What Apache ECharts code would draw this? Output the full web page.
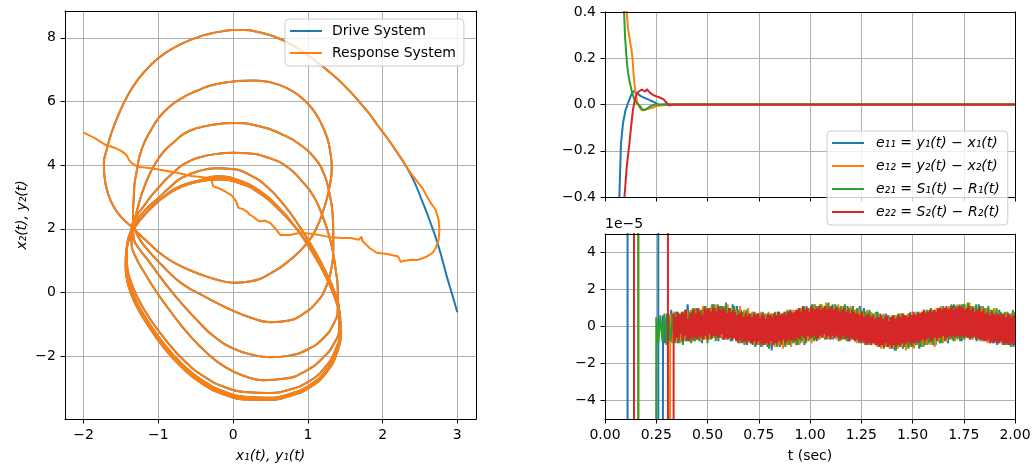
<!DOCTYPE html>
<html><head><meta charset="utf-8">
<script src="https://cdn.jsdelivr.net/npm/echarts@6/dist/echarts.min.js"></script>
<style>html,body{margin:0;padding:0;background:#fff}#c{width:1036px;height:468px}</style>
</head><body><div id="c"></div>
<script>
// ---------- phase portrait (x1,x2) / (y1,y2) ----------
const driveStart = [[3.0,-0.62],[2.93,-0.05],[2.86,0.5],[2.75,1.44],[2.64,2.2],[2.53,2.87],[2.42,3.5],[2.3,4.02]];
const responseStart = [[-2.0,5.02],[-1.85,4.85],[-1.72,4.65],[-1.58,4.54],[-1.5,4.45],[-1.43,4.33],[-1.39,4.15],[-1.36,4.07],[-1.3,3.98],[-1.25,3.94],[-1.1,3.9],[-0.92,3.83],[-0.75,3.76],[-0.56,3.66],[-0.4,3.62],[-0.29,3.6],[-0.28,3.45],[-0.27,3.34],[-0.18,3.26],[-0.11,3.18],[-0.02,3.05],[0.04,2.87],[0.07,2.66],[0.13,2.62],[0.18,2.55],[0.22,2.45],[0.27,2.38],[0.31,2.3],[0.36,2.23],[0.42,2.26],[0.45,2.23],[0.5,2.18],[0.56,2.02],[0.63,1.81],[0.76,1.81],[0.9,1.88],[1.08,1.84],[1.3,1.74],[1.46,1.71],[1.57,1.71],[1.68,1.66],[1.72,1.75],[1.73,1.62],[1.83,1.39],[1.92,1.25],[2.06,1.21],[2.21,1.13],[2.24,0.97],[2.3,1.0],[2.38,1.03],[2.46,1.02],[2.52,1.06],[2.59,1.13],[2.67,1.25],[2.71,1.39],[2.75,1.65],[2.76,1.97],[2.75,2.28],[2.71,2.6],[2.66,2.76],[2.59,3.03],[2.53,3.29],[2.46,3.5],[2.39,3.71],[2.3,4.02]];
// common trajectory after synchronisation
const attractor = [
 [2.3,4.02],[2.18,4.45],[2.06,4.86],[1.94,5.23],[1.83,5.59],[1.72,5.9],[1.61,6.2],[1.5,6.47],[1.39,6.72],[1.25,7.0],[1.1,7.28],[0.94,7.55],[0.8,7.75],[0.67,7.92],[0.5,8.08],[0.33,8.18],[0.16,8.24],[0.0,8.24],[-0.15,8.2],[-0.32,8.12],[-0.47,8.02],[-0.7,7.8],[-0.92,7.5],[-1.1,7.15],[-1.27,6.7],[-1.42,6.15],[-1.54,5.55],[-1.63,5.0],[-1.69,4.5],[-1.73,4.05],[-1.72,3.6],[-1.68,3.15],[-1.6,2.7],[-1.49,2.35],[-1.36,2.07],[-1.15,1.6],[-0.92,1.13],[-0.7,0.83],[-0.47,0.6],[-0.24,0.42],[0.0,0.31],[0.22,0.35],[0.5,0.6],[0.76,1.02],[0.99,1.55],[1.12,2.05],[1.21,2.6],[1.28,3.2],[1.32,3.92],
 [1.3,4.4],[1.26,4.85],[1.17,5.35],[1.05,5.8],[0.9,6.15],[0.72,6.42],[0.5,6.6],[0.28,6.66],[0.05,6.64],[-0.25,6.53],[-0.5,6.32],[-0.69,6.1],[-0.86,5.82],[-1.0,5.47],[-1.1,5.1],[-1.18,4.75],[-1.25,4.3],[-1.29,3.81],[-1.32,3.4],[-1.33,2.97],[-1.34,2.5],[-1.33,2.15],[-1.28,1.8],[-1.18,1.44],[-0.95,0.85],[-0.69,0.29],[-0.36,-0.15],[-0.02,-0.55],[0.25,-0.8],[0.5,-0.93],[0.75,-0.88],[0.95,-0.65],[1.12,-0.3],[1.24,0.15],[1.31,0.7],[1.34,1.3],[1.34,1.9],[1.33,2.5],[1.29,3.1],[1.22,3.7],[1.1,4.2],[0.92,4.6],[0.67,4.95],[0.35,5.22],[0.02,5.32],
 [-0.25,5.28],[-0.47,5.17],[-0.65,5.0],[-0.78,4.75],[-0.93,4.42],[-1.05,4.02],[-1.14,3.6],[-1.21,3.18],[-1.26,2.8],[-1.3,2.45],[-1.34,2.1],[-1.33,1.7],[-1.25,1.35],[-1.14,1.02],[-0.93,0.35],[-0.69,-0.34],[-0.47,-0.9],[-0.25,-1.39],[0.0,-1.75],[0.25,-1.95],[0.5,-2.03],[0.75,-1.98],[1.0,-1.78],[1.2,-1.45],[1.34,-1.0],[1.4,-0.5],[1.4,0.1],[1.37,0.75],[1.33,1.34],[1.27,1.9],[1.18,2.5],[1.07,3.05],[0.92,3.5],[0.72,3.95],[0.45,4.25],[0.2,4.37],[0.0,4.39],
 [-0.2,4.36],[-0.47,4.23],[-0.65,4.05],[-0.78,3.81],[-0.9,3.55],[-1.0,3.29],[-1.1,3.02],[-1.18,2.76],[-1.29,2.4],[-1.36,2.0],[-1.36,1.55],[-1.29,1.05],[-1.18,0.6],[-1.02,0.0],[-0.82,-0.65],[-0.6,-1.3],[-0.35,-1.9],[-0.1,-2.35],[0.15,-2.62],[0.4,-2.75],[0.7,-2.7],[0.98,-2.45],[1.2,-2.05],[1.35,-1.6],[1.42,-1.1],[1.42,-0.6],[1.36,0.0],[1.24,0.65],[1.08,1.35],[0.89,2.07],[0.68,2.75],[0.45,3.33],[0.2,3.72],[-0.02,3.88],[-0.22,3.9],
 [-0.45,3.82],[-0.69,3.6],[-0.85,3.3],[-1.0,2.97],[-1.13,2.7],[-1.23,2.45],[-1.32,2.15],[-1.39,1.8],[-1.42,1.4],[-1.42,0.9],[-1.37,0.35],[-1.27,-0.2],[-1.12,-0.8],[-0.9,-1.5],[-0.65,-2.15],[-0.38,-2.65],[-0.1,-2.98],[0.2,-3.13],[0.45,-3.15],[0.75,-3.05],[1.02,-2.78],[1.23,-2.35],[1.37,-1.8],[1.43,-1.2],[1.42,-0.7],[1.35,-0.1],[1.22,0.6],[1.05,1.3],[0.85,2.0],[0.62,2.65],[0.35,3.2],[0.08,3.52],[-0.2,3.65],
 [-0.45,3.52],[-0.7,3.35],[-0.88,3.1],[-1.03,2.8],[-1.16,2.5],[-1.27,2.2],[-1.36,1.85],[-1.42,1.4],[-1.43,0.9],[-1.39,0.3],[-1.29,-0.3],[-1.14,-0.9],[-0.93,-1.6],[-0.68,-2.25],[-0.4,-2.78],[-0.1,-3.13],[0.2,-3.28],[0.45,-3.3],[0.76,-3.18],[1.04,-2.88],[1.25,-2.42],[1.38,-1.85],[1.43,-1.2],[1.42,-0.7],[1.35,-0.1],[1.22,0.6],[1.05,1.3],[0.85,2.0],[0.62,2.6],[0.35,3.15],[0.08,3.47],[-0.2,3.58],
 [-0.45,3.5],[-0.7,3.32],[-0.89,3.07],[-1.04,2.78],[-1.17,2.48],[-1.28,2.17],[-1.37,1.82],[-1.43,1.35],[-1.44,0.85],[-1.4,0.25],[-1.3,-0.35],[-1.15,-0.95],[-0.94,-1.65],[-0.69,-2.3],[-0.41,-2.83],[-0.11,-3.18],[0.19,-3.33],[0.45,-3.35],[0.77,-3.22],[1.05,-2.92],[1.26,-2.45],[1.39,-1.87],[1.44,-1.22],[1.43,-0.7],[1.36,-0.1],[1.23,0.6],[1.06,1.3],[0.86,1.98],[0.63,2.58],[0.36,3.12],[0.08,3.45],[-0.2,3.56],
 [-0.45,3.49],[-0.7,3.31],[-0.89,3.06],[-1.05,2.77],[-1.18,2.46],[-1.29,2.15],[-1.38,1.8],[-1.43,1.33],[-1.44,0.83],[-1.4,0.22],[-1.3,-0.38],[-1.15,-0.98],[-0.94,-1.68],[-0.69,-2.33],[-0.41,-2.86],[-0.11,-3.2],[0.19,-3.35],[0.45,-3.37],[0.77,-3.24],[1.05,-2.94],[1.26,-2.47],[1.39,-1.88],[1.44,-1.22],[1.43,-0.7],[1.36,-0.1],[1.23,0.6],[1.06,1.3],[0.86,1.97],[0.63,2.57],[0.36,3.11],[0.08,3.44],[-0.22,3.55],
 [-0.45,3.49],[-0.7,3.31],[-0.9,3.05],[-1.05,2.76],[-1.18,2.45],[-1.29,2.14],[-1.38,1.79],[-1.43,1.32],[-1.44,0.82],[-1.4,0.21],[-1.3,-0.39],[-1.15,-0.99],[-0.94,-1.69],[-0.69,-2.34],[-0.41,-2.87],[-0.11,-3.21],[0.19,-3.36],[0.45,-3.37],[0.77,-3.24],[1.05,-2.94],[1.26,-2.47],[1.39,-1.88],[1.44,-1.2]
];

// ---------- synchronisation errors ----------
// transient part: [t, e]
const e11Transient = [[0,-5.0],[0.03,-2.2],[0.055,-0.9],[0.07,-0.4],[0.078,-0.17],[0.088,-0.08],[0.1,-0.025],[0.116,0.015],[0.128,0.042],[0.139,0.058],[0.15,0.052],[0.16,0.047],[0.175,0.036],[0.19,0.03],[0.205,0.024],[0.22,0.018],[0.235,0.012],[0.25,0.005],[0.264,-0.002],[0.272,-0.0012],[0.278,-0.0006]];
const e12Transient = [[0,5.6],[0.04,2.4],[0.08,0.9],[0.1,0.5],[0.106,0.4],[0.112,0.33],[0.119,0.29],[0.125,0.255],[0.13,0.235],[0.135,0.19],[0.139,0.134],[0.146,0.07],[0.152,0.033],[0.158,0.01],[0.168,-0.012],[0.18,-0.025],[0.19,-0.022],[0.2,-0.02],[0.21,-0.019],[0.22,-0.016],[0.23,-0.014],[0.24,-0.011],[0.253,-0.007],[0.27,-0.004],[0.29,-0.002],[0.305,-0.0008]];
const e21Transient = [[0,3.5],[0.05,1.3],[0.08,0.6],[0.093,0.4],[0.098,0.29],[0.106,0.19],[0.112,0.14],[0.119,0.105],[0.131,0.055],[0.14,0.03],[0.147,0.016],[0.155,0.006],[0.17,-0.006],[0.18,-0.02],[0.19,-0.025],[0.2,-0.021],[0.21,-0.014],[0.22,-0.008],[0.23,-0.004],[0.24,-0.0015],[0.247,-0.0004]];
const e22Transient = [[0,-3.5],[0.05,-1.2],[0.085,-0.55],[0.095,-0.4],[0.106,-0.27],[0.119,-0.168],[0.128,-0.09],[0.136,-0.025],[0.147,0.026],[0.155,0.045],[0.163,0.055],[0.172,0.062],[0.18,0.065],[0.188,0.058],[0.196,0.055],[0.204,0.066],[0.212,0.062],[0.22,0.05],[0.228,0.045],[0.237,0.04],[0.248,0.036],[0.26,0.033],[0.272,0.028],[0.286,0.022],[0.296,0.012],[0.302,0.004],[0.312,-0.004],[0.322,-0.002],[0.329,-0.0008]];

// steady-state residual noise (units of 1e-6), sampled every <step> s from <start>
const e11TailStart = 0.283, e11TailStep = 0.01;
const e11Tail = [
 6,-9,7,-8,9,-7,8,-9,7,-8, 8,-8,12,-7,9,-8,10,-7,9,-9, 11,-6,10,-7,12,-6,10,-8,11,-7, 11,-7,10,-8,12,-6,11,-7,9,-8,
 8,-10,7,-9,8,-11,7,-10,6,-9, 7,-11,6,-13,7,-10,8,-11,6,-10, 8,-10,9,-9,7,-10,8,-9,9,-10, 11,-8,10,-7,12,-8,11,-6,10,-7,
 12,-6,11,-7,12,-6,10,-7,11,-6, 11,-8,10,-7,9,-8,11,-7,10,-9, 8,-10,7,-9,8,-11,7,-10,6,-11, 6,-12,5,-13,6,-11,7,-12,5,-11,
 7,-11,6,-10,8,-12,7,-11,8,-10, 9,-9,8,-10,10,-9,9,-8,10,-9, 11,-7,12,-6,11,-8,12,-7,10,-6, 11,-7,10,-8,12,-6,11,-7,10,-8,
 9,-9,8,-10,9,-8,7,-9,8,-10, 7,-11,6,-10,7,-11,6,-12,7,-10];
const e12TailStart = 0.318, e12TailStep = 0.01;
const e12Tail = [
 7,-9,8,-8,6,-9,8,-7,9,-8, 9,-8,10,-7,9,-8,11,-7,10,-7, 11,-6,12,-7,10,-6,11,-7,12,-6, 10,-7,9,-8,11,-8,9,-7,10,-9,
 8,-10,7,-9,8,-11,7,-10,8,-9, 7,-11,6,-10,7,-12,8,-10,7,-11, 9,-9,8,-10,10,-9,9,-8,10,-9, 12,-6,11,-7,12,-6,13,-7,11,-6,
 11,-7,12,-8,11,-6,10,-8,11,-7, 9,-9,10,-8,8,-9,9,-10,8,-9, 7,-11,6,-12,7,-11,5,-12,6,-11, 6,-12,7,-11,6,-13,7,-11,6,-12,
 8,-10,7,-11,9,-10,8,-10,9,-11, 10,-8,11,-9,10,-8,11,-7,10,-8, 12,-6,11,-7,12,-6,13,-7,11,-6, 10,-8,11,-7,10,-9,9,-8,10,-8,
 8,-9,7,-10,8,-10,7,-9,8,-10];
const e21TailStart = 0.25, e21TailStep = 0.01;
const e21Tail = [
 5,-9,6,-8,7,-10,6,-8,7,-9, 8,-9,7,-10,9,-8,8,-9,10,-8, 10,-8,9,-7,11,-9,10,-7,12,-8, 12,-6,11,-7,13,-6,10,-8,11,-7,
 9,-9,8,-10,9,-8,7,-10,8,-9, 7,-11,8,-10,6,-12,7,-10,8,-11, 8,-10,7,-11,9,-10,8,-9,9,-10, 10,-8,11,-9,10,-7,12,-8,11,-7,
 12,-6,11,-7,13,-7,12,-6,11,-8, 11,-7,12,-8,10,-7,11,-8,10,-9, 9,-9,8,-10,9,-9,7,-10,8,-11, 6,-12,7,-11,5,-12,6,-13,7,-11,
 7,-11,6,-12,8,-11,7,-10,8,-11, 8,-10,9,-9,10,-10,9,-8,10,-9, 11,-8,10,-7,12,-8,11,-7,12,-8, 12,-6,13,-7,11,-6,12,-7,11,-8,
 10,-8,11,-9,9,-8,10,-9,8,-10, 8,-10,7,-11,9,-10,7,-11,8,-10];
const e22TailStart = 0.335, e22TailStep = 0.005;
const e22Tail = [
 7,-8,5,-6,8,-7,6,-4,8,-8,7,-5,9,-7,4,-8,7,-6,8,-7,
 9,-6,7,-7,10,-5,8,-6,6,-7,10,-5,9,-7,10,-4,8,-6,10,-5,
 10,-5,8,-6,11,-6,9,-4,10,-7,9,-6,7,-7,10,-6,8,-7,9,-6,
 8,-8,6,-9,7,-7,8,-9,5,-8,7,-9,6,-8,7,-9,5,-9,7,-8,
 6,-10,7,-8,5,-9,7,-10,6,-9,4,-9,7,-10,6,-8,5,-10,7,-9,
 6,-9,8,-8,6,-9,7,-7,8,-9,6,-8,8,-7,9,-8,7,-7,8,-8,
 9,-6,10,-7,8,-5,11,-6,9,-7,10,-5,8,-6,11,-6,10,-5,9,-7,
 10,-6,11,-5,9,-6,10,-4,11,-6,9,-5,10,-7,11,-5,9,-6,10,-5,
 10,-6,8,-7,9,-5,10,-7,8,-6,9,-8,7,-6,9,-7,8,-8,7,-7,
 7,-8,6,-9,8,-8,5,-10,6,-9,7,-9,5,-10,6,-9,4,-10,5,-10,
 5,-11,6,-10,4,-11,5,-9,6,-11,3,-10,5,-11,6,-10,4,-11,5,-10,
 6,-10,5,-9,7,-10,6,-9,5,-8,7,-10,6,-9,8,-9,6,-8,7,-9,
 7,-8,8,-7,9,-8,7,-7,8,-6,9,-8,8,-7,9,-6,8,-7,10,-6,
 10,-6,9,-5,10,-7,11,-6,9,-5,10,-6,11,-5,9,-6,10,-5,11,-6,
 11,-5,10,-6,9,-5,10,-6,11,-7,9,-6,10,-5,8,-7,9,-6,10,-7,
 8,-7,9,-8,7,-8,8,-7,6,-9,8,-8,7,-9,6,-8,7,-9,6,-8,
 7,-9,6,-10,5,-9,7,-10,6,-9,5,-10,6,-9,7,-10,5,-9,6,-10];

// ---------- ticks ----------
const phaseXTicks = [-2,-1,0,1,2,3];
const phaseYTicks = [-2,0,2,4,6,8];
const timeTicks = [0,0.25,0.5,0.75,1,1.25,1.5,1.75,2];
const errTopTicks = [-0.4,-0.2,0,0.2,0.4];
const errBottomTicks = [-4e-5,-2e-5,0,2e-5,4e-5];

const names = ['e\u2081\u2081 = y\u2081(t) \u2212 x\u2081(t)','e\u2081\u2082 = y\u2082(t) \u2212 x\u2082(t)','e\u2082\u2081 = S\u2081(t) \u2212 R\u2081(t)','e\u2082\u2082 = S\u2082(t) \u2212 R\u2082(t)'];
const colors = ['#1f77b4','#ff7f0e','#2ca02c','#d62728'];

function tail(t0, dt, vals){ return vals.map((v,i)=>[+(t0+i*dt).toFixed(4), v*1e-6]); }
const errSeriesData = [
  e11Transient.concat(tail(e11TailStart,e11TailStep,e11Tail)),
  e12Transient.concat(tail(e12TailStart,e12TailStep,e12Tail)),
  e21Transient.concat(tail(e21TailStart,e21TailStep,e21Tail)),
  e22Transient.concat(tail(e22TailStart,e22TailStep,e22Tail))
];

const FONT = 'DejaVu Sans';
const MINUS = '\u2212';
const LW = 2;
function fmt(v,d){ const s=Math.abs(v).toFixed(d); return (v<0 && +s!==0 ? MINUS : '') + s; }

function mainAxis(grid, min, max, ticks, labelFmt, extra){
  return Object.assign({
    type:'value', gridIndex:grid, min, max, z:0,
    axisLine:{show:false, onZero:false},
    axisTick:{show:true, inside:false, length:4.5, customValues:ticks, lineStyle:{color:'#000', width:1}},
    axisLabel:{show: labelFmt!==null, customValues:ticks, margin:9, fontFamily:FONT, fontSize:14, color:'#000',
               formatter: labelFmt || (()=>'')},
    splitLine:{show:true, lineStyle:{color:'#b0b0b0', width:1}}
  }, extra||{});
}
function frameAxis(grid, pos){
  return {type:'value', gridIndex:grid, position:pos, min:0, max:1, z:5,
    axisLine:{show:true, onZero:false, lineStyle:{color:'#000', width:1}},
    axisTick:{show:false}, axisLabel:{show:false}, splitLine:{show:false}};
}

const xAxis = [
  mainAxis(0,-2.25,3.25,phaseXTicks,v=>fmt(v,0),{name:'x\u2081(t), y\u2081(t)', nameLocation:'middle', nameGap:30,
    nameTextStyle:{fontFamily:FONT,fontSize:14,fontStyle:'italic',color:'#000'}}),
  mainAxis(1,0,2,timeTicks,null),
  mainAxis(2,0,2,timeTicks,v=>fmt(v,2),{name:'t (sec)', nameLocation:'middle', nameGap:30,
    nameTextStyle:{fontFamily:FONT,fontSize:14,color:'#000'}}),
  frameAxis(0,'top'),frameAxis(0,'bottom'),frameAxis(1,'top'),frameAxis(1,'bottom'),frameAxis(2,'top'),frameAxis(2,'bottom')
];
const yAxis = [
  mainAxis(0,-3.97,8.84,phaseYTicks,v=>fmt(v,0),{name:'x\u2082(t), y\u2082(t)', nameLocation:'middle', nameGap:36,
    nameTextStyle:{fontFamily:FONT,fontSize:14,fontStyle:'italic',color:'#000'}}),
  mainAxis(1,-0.4,0.4,errTopTicks,v=>fmt(v,1)),
  mainAxis(2,-5e-5,5e-5,errBottomTicks,v=>fmt(v*1e5,0)),
  frameAxis(0,'left'),frameAxis(0,'right'),frameAxis(1,'left'),frameAxis(1,'right'),frameAxis(2,'left'),frameAxis(2,'right')
];

const series = [
  {name:'Drive System', type:'line', xAxisIndex:0, yAxisIndex:0, data:driveStart.concat(attractor.slice(1)),
   smooth:0.5, symbol:'none', lineStyle:{color:colors[0], width:LW}, itemStyle:{color:colors[0]}},
  {name:'Response System', type:'line', xAxisIndex:0, yAxisIndex:0, data:responseStart,
   smooth:false, symbol:'none', lineStyle:{color:colors[1], width:LW}, itemStyle:{color:colors[1]}},
  {name:'Response System', type:'line', xAxisIndex:0, yAxisIndex:0, data:attractor,
   smooth:0.5, symbol:'none', lineStyle:{color:colors[1], width:LW}, itemStyle:{color:colors[1]}}
];
for (let g=1; g<=2; g++){
  for (let k=0;k<4;k++){
    series.push({name:names[k], type:'line', xAxisIndex:g, yAxisIndex:g, data:errSeriesData[k],
      smooth:false, symbol:'none', clip:true, lineStyle:{color:colors[k], width:LW}, itemStyle:{color:colors[k]}});
  }
}

const legendCommon = {orient:'vertical', z:10, icon:'rect', itemWidth:32, itemHeight:2,
  backgroundColor:'rgba(255,255,255,0.8)', borderColor:'#cccccc', borderWidth:1, borderRadius:4};

const chart = echarts.init(document.getElementById('c'), null, {renderer:'canvas'});
chart.setOption({
  animation:false,
  backgroundColor:'#fff',
  grid:[{left:65, top:11, width:411, height:408},{left:605, top:12, width:410, height:185},{left:605, top:234, width:410, height:185}],
  xAxis, yAxis, series,
  legend:[
    Object.assign({data:['Drive System','Response System'], left:285, top:19, itemGap:8, padding:[5,8,6,5],
     textStyle:{fontFamily:FONT, fontSize:14, lineHeight:14, color:'#000', padding:[0,0,0,5]}}, legendCommon),
    Object.assign({data:names, left:827, top:131, itemGap:9, padding:[5,8,6,5],
     textStyle:{fontFamily:FONT, fontSize:14, lineHeight:14, fontStyle:'italic', color:'#000', padding:[0,0,0,7]}}, legendCommon)
  ],
  graphic:[{type:'text', left:605, top:217, style:{text:'1e\u22125', fontFamily:FONT, fontSize:14, fill:'#000'}}]
});
</script></body></html>
